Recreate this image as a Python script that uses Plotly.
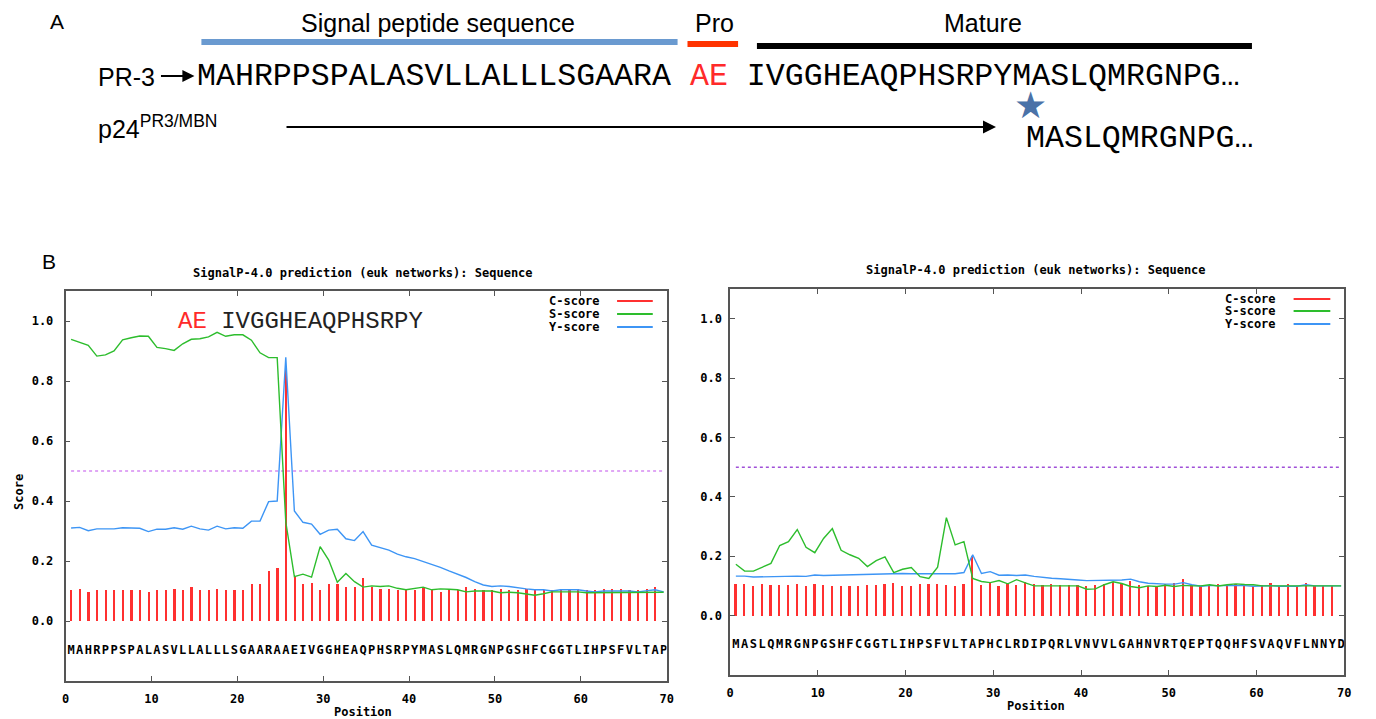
import plotly.graph_objects as go

W, H = 1376, 719

# ---------------- data ----------------
positions = list(range(1, 71))
seq_pr3 = "MAHRPPSPALASVLLALLLSGAARAAEIVGGHEAQPHSRPYMASLQMRGNPGSHFCGGTLIHPSFVLTAP"
seq_p24 = "MASLQMRGNPGSHFCGGTLIHPSFVLTAPHCLRDIPQRLVNVVLGAHNVRTQEPTQQHFSVAQVFLNNYD"

c_left = [0.104, 0.107, 0.098, 0.102, 0.102, 0.102, 0.105, 0.105, 0.105, 0.098,
          0.105, 0.105, 0.108, 0.102, 0.112, 0.105, 0.102, 0.108, 0.102, 0.105,
          0.105, 0.122, 0.122, 0.167, 0.177, 0.838, 0.147, 0.125, 0.128, 0.105,
          0.125, 0.125, 0.112, 0.112, 0.145, 0.112, 0.108, 0.108, 0.102, 0.105,
          0.102, 0.112, 0.105, 0.098, 0.105, 0.102, 0.112, 0.108, 0.105, 0.105,
          0.108, 0.105, 0.105, 0.108, 0.102, 0.105, 0.102, 0.108, 0.105, 0.108,
          0.102, 0.102, 0.108, 0.108, 0.108, 0.105, 0.102, 0.108, 0.112]
s_left = [0.939, 0.928, 0.919, 0.883, 0.887, 0.900, 0.937, 0.944, 0.950, 0.949,
          0.912, 0.908, 0.902, 0.924, 0.939, 0.941, 0.947, 0.962, 0.949, 0.954,
          0.954, 0.936, 0.894, 0.878, 0.878, 0.330, 0.148, 0.156, 0.146, 0.248,
          0.203, 0.129, 0.158, 0.131, 0.113, 0.117, 0.115, 0.117, 0.109, 0.104,
          0.109, 0.113, 0.104, 0.107, 0.106, 0.104, 0.097, 0.100, 0.100, 0.100,
          0.094, 0.096, 0.094, 0.091, 0.086, 0.091, 0.097, 0.097, 0.097, 0.097,
          0.094, 0.094, 0.094, 0.094, 0.094, 0.094, 0.094, 0.094, 0.094, 0.096]
y_left = [0.310, 0.312, 0.301, 0.307, 0.307, 0.307, 0.311, 0.309, 0.309, 0.298,
          0.306, 0.306, 0.311, 0.306, 0.316, 0.307, 0.303, 0.316, 0.307, 0.311,
          0.309, 0.333, 0.333, 0.398, 0.400, 0.879, 0.367, 0.329, 0.323, 0.289,
          0.303, 0.306, 0.274, 0.268, 0.298, 0.253, 0.244, 0.236, 0.223, 0.214,
          0.208, 0.199, 0.190, 0.179, 0.167, 0.156, 0.145, 0.131, 0.120, 0.115,
          0.117, 0.115, 0.110, 0.107, 0.104, 0.104, 0.100, 0.104, 0.104, 0.104,
          0.100, 0.097, 0.100, 0.100, 0.100, 0.100, 0.097, 0.100, 0.104, 0.097]

c_right = [0.106, 0.106, 0.100, 0.106, 0.103, 0.103, 0.103, 0.106, 0.100, 0.106,
           0.103, 0.100, 0.100, 0.100, 0.100, 0.103, 0.103, 0.106, 0.109, 0.100,
           0.100, 0.106, 0.106, 0.106, 0.103, 0.100, 0.106, 0.200, 0.103, 0.109,
           0.100, 0.106, 0.103, 0.112, 0.106, 0.103, 0.106, 0.103, 0.103, 0.103,
           0.100, 0.103, 0.106, 0.112, 0.106, 0.115, 0.103, 0.100, 0.100, 0.106,
           0.109, 0.125, 0.103, 0.100, 0.103, 0.106, 0.103, 0.106, 0.100, 0.100,
           0.103, 0.109, 0.100, 0.106, 0.100, 0.109, 0.100, 0.100, 0.100]
s_right = [0.173, 0.150, 0.150, 0.163, 0.176, 0.236, 0.249, 0.290, 0.230, 0.212,
           0.260, 0.293, 0.220, 0.205, 0.193, 0.165, 0.185, 0.198, 0.145, 0.156,
           0.162, 0.131, 0.125, 0.163, 0.330, 0.238, 0.249, 0.125, 0.115, 0.111,
           0.118, 0.107, 0.121, 0.110, 0.100, 0.100, 0.100, 0.100, 0.100, 0.100,
           0.089, 0.090, 0.104, 0.114, 0.108, 0.098, 0.094, 0.100, 0.098, 0.102,
           0.098, 0.102, 0.100, 0.100, 0.104, 0.100, 0.104, 0.107, 0.105, 0.104,
           0.100, 0.100, 0.100, 0.100, 0.100, 0.100, 0.100, 0.100, 0.100, 0.100]
y_right = [0.133, 0.133, 0.130, 0.131, 0.130, 0.131, 0.132, 0.133, 0.132, 0.137,
           0.135, 0.136, 0.137, 0.138, 0.138, 0.139, 0.139, 0.140, 0.141, 0.142,
           0.141, 0.141, 0.141, 0.141, 0.140, 0.141, 0.145, 0.205, 0.142, 0.148,
           0.136, 0.137, 0.135, 0.137, 0.132, 0.128, 0.126, 0.124, 0.123, 0.120,
           0.118, 0.118, 0.118, 0.120, 0.120, 0.123, 0.114, 0.109, 0.107, 0.106,
           0.106, 0.111, 0.104, 0.099, 0.101, 0.101, 0.100, 0.102, 0.101, 0.099,
           0.100, 0.101, 0.099, 0.100, 0.099, 0.104, 0.100, 0.100, 0.100, 0.100]

threshold = 0.5
x_ticks = [0, 10, 20, 30, 40, 50, 60, 70]
y_ticks = [0.0, 0.2, 0.4, 0.6, 0.8, 1.0]
score_names = ["C-score", "S-score", "Y-score"]

# ---------------- style ----------------
RED = "#ff3030"
GREEN = "#2dbd2d"
BLUE = "#3d95f5"
AXC = "#555555"
GNU = "DejaVu Sans Mono"
SANS = "Liberation Sans"
MONO = "Liberation Mono"
SHIFT = 0.35  # gnuplot draws each residue slightly left of its integer position

fig = go.Figure()


def px(x):
    return x / W


def py(y):
    return 1 - y / H


def add_panel(c, s, yv, seq, xa, ya, thr_color):
    xs = [p - SHIFT for p in positions]
    fig.add_trace(go.Bar(x=xs[:len(c)], y=c, width=0.2, marker=dict(color=RED, line=dict(width=0)),
                         xaxis=xa, yaxis=ya, showlegend=False, hoverinfo="skip"))
    fig.add_trace(go.Scatter(x=[xs[0], xs[-1]], y=[threshold, threshold], mode="lines",
                             line=dict(color=thr_color, width=1.5, dash="dot"),
                             xaxis=xa, yaxis=ya, showlegend=False, hoverinfo="skip"))
    fig.add_trace(go.Scatter(x=xs, y=yv, mode="lines", line=dict(color=BLUE, width=1.4),
                             xaxis=xa, yaxis=ya, showlegend=False))
    fig.add_trace(go.Scatter(x=xs, y=s, mode="lines", line=dict(color=GREEN, width=1.4),
                             xaxis=xa, yaxis=ya, showlegend=False))
    fig.add_trace(go.Scatter(x=xs, y=[-0.1] * len(seq), mode="text", text=list(seq),
                             textfont=dict(family=GNU, size=12, color="black", weight="bold"),
                             textposition="middle center",
                             xaxis=xa, yaxis=ya, showlegend=False, hoverinfo="skip"))


add_panel(c_left, s_left, y_left, seq_pr3, "x", "y", "#d68af2")
add_panel(c_right, s_right, y_right, seq_p24, "x2", "y2", "#a050d8")

axis_common = dict(showgrid=False, zeroline=False, showline=True, linecolor=AXC, linewidth=1.5,
                   ticks="inside", ticklen=5, tickwidth=1.2, tickcolor=AXC, mirror="ticks",
                   tickfont=dict(family=GNU, size=12, color="black", weight="bold"))

fig.update_layout(
    width=W, height=H, autosize=False,
    margin=dict(l=0, r=0, t=0, b=0),
    paper_bgcolor="white", plot_bgcolor="white",
    bargap=0,
    xaxis=dict(domain=[px(62), px(668)], range=[0, 70], tickvals=x_ticks, anchor="y",
               ticklabelstandoff=6, **axis_common),
    yaxis=dict(domain=[py(681), py(291)], range=[-0.2, 1.1], tickvals=y_ticks, tickformat=".1f",
               anchor="x", ticklabelstandoff=8, **axis_common),
    xaxis2=dict(domain=[px(732), px(1351)], range=[0, 70], tickvals=x_ticks, anchor="y2",
                ticklabelstandoff=6, **axis_common),
    yaxis2=dict(domain=[py(675), py(289)], range=[-0.2, 1.1], tickvals=y_ticks, tickformat=".1f",
                anchor="x2", ticklabelstandoff=4, **axis_common),
)

annotations = []
shapes = []


def ann(text, x, y, size, family, color="black", xanchor="center", yanchor="middle", **kw):
    d = dict(text=text, x=px(x), y=py(y), xref="paper", yref="paper", showarrow=False,
             xanchor=xanchor, yanchor=yanchor, font=dict(family=family, size=size, color=color),
             borderpad=0)
    d.update(kw)
    annotations.append(d)


# ---------- panel A ----------
ann("A", 53, 21, 21, SANS)
ann("Signal peptide sequence", 438, 23, 25, SANS)
ann("Pro", 716, 23, 25, SANS)
ann("Mature", 987, 23, 25, SANS)
shapes.append(dict(type="line", xref="paper", yref="paper", x0=px(199), x1=px(679), y0=py(42), y1=py(42),
                   line=dict(color="#6a9ad0", width=6)))
shapes.append(dict(type="line", xref="paper", yref="paper", x0=px(689), x1=px(740), y0=py(44), y1=py(44),
                   line=dict(color="#ff3300", width=6)))
shapes.append(dict(type="line", xref="paper", yref="paper", x0=px(759), x1=px(1258), y0=py(46), y1=py(46),
                   line=dict(color="black", width=6)))

ann("PR-3", 94, 77, 25, SANS, xanchor="left")
annotations.append(dict(text="", x=px(192), y=py(76), xref="paper", yref="paper", showarrow=True,
                        ax=-35, ay=0, axref="pixel", ayref="pixel", arrowhead=2, arrowsize=1.1,
                        arrowwidth=2.2, arrowcolor="black", standoff=0))
line1 = (seq_pr3[:25] + " <span style='color:#ff2a2a'>" + seq_pr3[25:27] + "</span> "
         + seq_pr3[27:52] + "\u2026")
ann(line1, 194, 77, 31.6, MONO, xanchor="left")

ann("p24<sup>PR3/MBN</sup>", 94, 127, 25, SANS, xanchor="left")
annotations.append(dict(text="", x=px(1000), y=py(127), xref="paper", yref="paper", showarrow=True,
                        ax=-711, ay=0, axref="pixel", ayref="pixel", arrowhead=2, arrowsize=1.3,
                        arrowwidth=2, arrowcolor="black", standoff=0))
ann("\u2605", 1035, 106, 37, "DejaVu Sans", color="#4a72a8")
ann(seq_p24[:11] + "\u2026", 1029, 138, 31.6, MONO, xanchor="left")

# ---------- panel B ----------
ann("B", 45, 261, 21, SANS)
title = "<b>SignalP-4.0 prediction (euk networks): Sequence</b>"
ann(title, 362, 273, 12, GNU)
ann(title, 1040, 270, 12, GNU)
ann("<b>Position</b>", 362, 712, 12, GNU)
ann("<b>Position</b>", 1040, 706, 12, GNU)
ann("<b>Score</b>", 15, 492, 12, GNU, textangle=-90)

ann("<span style='color:#ff2a2a'>" + seq_pr3[25:27] + "</span> " + seq_pr3[27:41],
    174, 321, 24, MONO, color="#222222", xanchor="left")

# legends (gnuplot style: label left, sample right)
for (tx, lx0, lx1, ys) in [(602, 618, 654, [301, 314, 327]), (1283, 1300, 1337, [299, 311, 324])]:
    for name, col, yy in zip(score_names, [RED, GREEN, BLUE], ys):
        ann("<b>" + name + "</b>", tx, yy, 12, GNU, xanchor="right")
        shapes.append(dict(type="line", xref="paper", yref="paper", x0=px(lx0), x1=px(lx1),
                           y0=py(yy), y1=py(yy), line=dict(color=col, width=2)))

fig.update_layout(annotations=annotations, shapes=shapes)

fig.write_html("out.html", config={"displayModeBar": False},
               post_script="document.body.style.margin='0';document.body.style.overflow='hidden';")
